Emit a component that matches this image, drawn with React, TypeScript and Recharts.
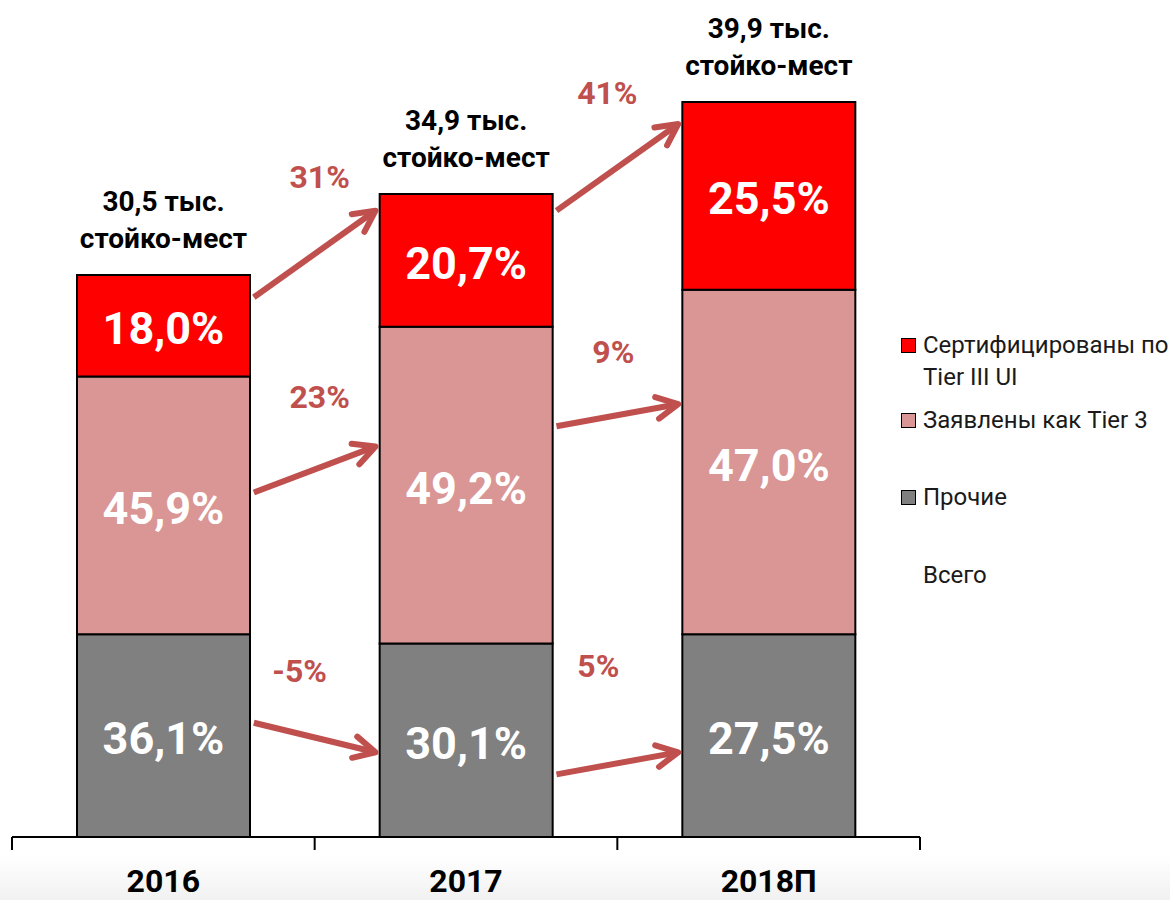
import { Bar, BarChart, LabelList, Legend, ReferenceDot, ReferenceLine, XAxis, YAxis } from "recharts";

// categories and stacked values (thousand racks)
const categories = ["2016", "2017", "2018П"];
const otherValues = [11.0, 10.5, 11.0];
const declaredValues = [14.0, 17.2, 18.7];
const certifiedValues = [5.5, 7.2, 10.2];

// labels printed inside the segments and above the bars
const otherShares = ["36,1%", "30,1%", "27,5%"];
const declaredShares = ["45,9%", "49,2%", "47,0%"];
const certifiedShares = ["18,0%", "20,7%", "25,5%"];
const totalLabels = ["30,5", "34,9", "39,9"];

// year-over-year growth between neighbouring bars
const certifiedGrowth = ["31%", "41%"];
const declaredGrowth = ["23%", "9%"];
const otherGrowth = ["-5%", "5%"];

const legendItems = [
  { name: "Сертифицированы по Tier III UI", color: "#FF0000" },
  { name: "Заявлены как Tier 3", color: "#D99694" },
  { name: "Прочие", color: "#808080" },
  { name: "Всего", color: null },
];

const data = categories.map((year, i) => ({
  year,
  other: otherValues[i],
  declared: declaredValues[i],
  certified: certifiedValues[i],
}));

const W = 1170;
const H = 900;
const MARGIN = { top: 8, right: 250, bottom: 0, left: 12 };
const BAR_SIZE = 173;
const STEP = (W - MARGIN.left - MARGIN.right) / categories.length;
const FONT = "Roboto, 'Noto Sans', sans-serif";
const ARROW = "#C0504D";

// arrow anchors in value units: [start height, end height, label height, label shift px]
const arrowLayout = [
  { growth: certifiedGrowth, anchors: [[29.3, 34.0, 35.8, 5], [34.0, 38.7, 40.4, -10]] },
  { growth: declaredGrowth, anchors: [[18.7, 21.2, 23.9, 5], [22.3, 23.5, 26.3, -4]] },
  { growth: otherGrowth, anchors: [[6.2, 4.6, 9.0, -15], [3.4, 4.6, 9.3, -19]] },
];

const arrows = arrowLayout.flatMap((s) =>
  s.anchors.map((a, i) => ({
    from: categories[i],
    to: categories[i + 1],
    y1: a[0],
    y2: a[1],
    labelY: a[2],
    shift: a[3],
    text: s.growth[i],
  }))
);

function box(props: any) {
  const vb = props.viewBox && props.viewBox.width !== undefined ? props.viewBox : props;
  return { x: Number(vb.x), y: Number(vb.y), width: Number(vb.width), height: Number(vb.height) };
}

const segmentLabel = (labels: string[]) => (props: any) => {
  const { x, y, width, height } = box(props);
  return (
    <text
      x={x + width / 2}
      y={y + height / 2 + 3}
      textAnchor="middle"
      dominantBaseline="central"
      fill="#fff"
      fontSize={45}
      fontWeight={700}
      fontFamily={FONT}
    >
      {labels[props.index]}
    </text>
  );
};

const totalLabel = (props: any) => {
  const { x, y, width } = box(props);
  const cx = x + width / 2;
  return (
    <text textAnchor="middle" fill="#000" fontSize={28} fontWeight={700} fontFamily={FONT}>
      <tspan x={cx} y={y - 64}>{totalLabels[props.index] + " тыс."}</tspan>
      <tspan x={cx} y={y - 27}>стойко-мест</tspan>
    </text>
  );
};

const arrowShape = (props: any) => {
  const sx = props.x1 + BAR_SIZE / 2 + 4;
  const ex = props.x2 - BAR_SIZE / 2 - 4;
  const sy = props.y1;
  const ey = props.y2;
  const ang = Math.atan2(ey - sy, ex - sx);
  const len = 24;
  const spread = (27 * Math.PI) / 180;
  const a1x = ex - len * Math.cos(ang - spread);
  const a1y = ey - len * Math.sin(ang - spread);
  const a2x = ex - len * Math.cos(ang + spread);
  const a2y = ey - len * Math.sin(ang + spread);
  return (
    <g>
      <line x1={sx} y1={sy} x2={ex - 2 * Math.cos(ang)} y2={ey - 2 * Math.sin(ang)} stroke={ARROW} strokeWidth={6} />
      <polyline
        points={`${a1x},${a1y} ${ex},${ey} ${a2x},${a2y}`}
        fill="none"
        stroke={ARROW}
        strokeWidth={6}
        strokeLinecap="round"
        strokeLinejoin="round"
      />
    </g>
  );
};

const growthText = (text: string, shift: number) => (props: any) => (
  <text
    x={props.cx + STEP / 2 + shift}
    y={props.cy}
    textAnchor="middle"
    dominantBaseline="central"
    fill={ARROW}
    fontSize={32}
    fontWeight={700}
    fontFamily={FONT}
  >
    {text}
  </text>
);

const CategoryTick = (props: any) => {
  const { x, y, payload, index } = props;
  const half = STEP / 2;
  return (
    <g>
      <line x1={x - half} y1={y} x2={x - half} y2={y + 13} stroke="#000" strokeWidth={2} />
      {index === categories.length - 1 && (
        <line x1={x + half} y1={y} x2={x + half} y2={y + 13} stroke="#000" strokeWidth={2} />
      )}
      <text x={x} y={y + 55} textAnchor="middle" fill="#000" fontSize={32} fontWeight={700} fontFamily={FONT}>
        {payload.value}
      </text>
    </g>
  );
};

const itemGaps = [0, 11, 45, 46];

const renderLegend = () => (
  <div style={{ fontFamily: FONT, fontSize: 24, color: "#1a1a1a", lineHeight: "32px" }}>
    {legendItems.map((item, i) => (
      <div key={item.name} style={{ display: "flex", alignItems: "flex-start", marginTop: itemGaps[i] }}>
        <div
          style={{
            width: 13,
            height: 13,
            marginTop: 9,
            marginRight: 7,
            flex: "none",
            background: item.color || "transparent",
            border: item.color ? "1.5px solid #000" : "1.5px solid transparent",
          }}
        />
        <div style={{ width: 250 }}>{item.name}</div>
      </div>
    ))}
  </div>
);

export default function App() {
  return (
    <div
      style={{
        position: "absolute",
        left: 0,
        top: 0,
        width: W,
        height: H,
        background: "linear-gradient(to bottom, #ffffff 0px, #ffffff 855px, #f1f1f1 900px)",
      }}
    >
      <BarChart width={W} height={H} data={data} margin={MARGIN} barSize={BAR_SIZE}>
        <XAxis
          dataKey="year"
          height={63}
          interval={0}
          tickSize={0}
          tickMargin={0}
          tickLine={false}
          axisLine={{ stroke: "#000", strokeWidth: 2 }}
          tick={<CategoryTick />}
        />
        <YAxis hide domain={[0, 45]} />
        <Legend
          layout="vertical"
          align="center"
          verticalAlign="middle"
          content={renderLegend}
          wrapperStyle={{ left: 901, top: 329, width: 269 }}
        />
        <Bar dataKey="other" name="Прочие" stackId="a" fill="#808080" stroke="#000" strokeWidth={2} isAnimationActive={false}>
          <LabelList dataKey="other" content={segmentLabel(otherShares)} />
        </Bar>
        <Bar dataKey="declared" name="Заявлены как Tier 3" stackId="a" fill="#D99694" stroke="#000" strokeWidth={2} isAnimationActive={false}>
          <LabelList dataKey="declared" content={segmentLabel(declaredShares)} />
        </Bar>
        <Bar dataKey="certified" name="Сертифицированы по Tier III UI" stackId="a" fill="#FF0000" stroke="#000" strokeWidth={2} isAnimationActive={false}>
          <LabelList dataKey="certified" content={segmentLabel(certifiedShares)} />
          <LabelList dataKey="certified" content={totalLabel} />
        </Bar>
        {arrows.map((a) => (
          <ReferenceLine
            key={"l" + a.text}
            segment={[
              { x: a.from, y: a.y1 },
              { x: a.to, y: a.y2 },
            ]}
            shape={arrowShape}
          />
        ))}
        {arrows.map((a) => (
          <ReferenceDot key={"d" + a.text} x={a.from} y={a.labelY} r={0} shape={growthText(a.text, a.shift)} />
        ))}
      </BarChart>
    </div>
  );
}
